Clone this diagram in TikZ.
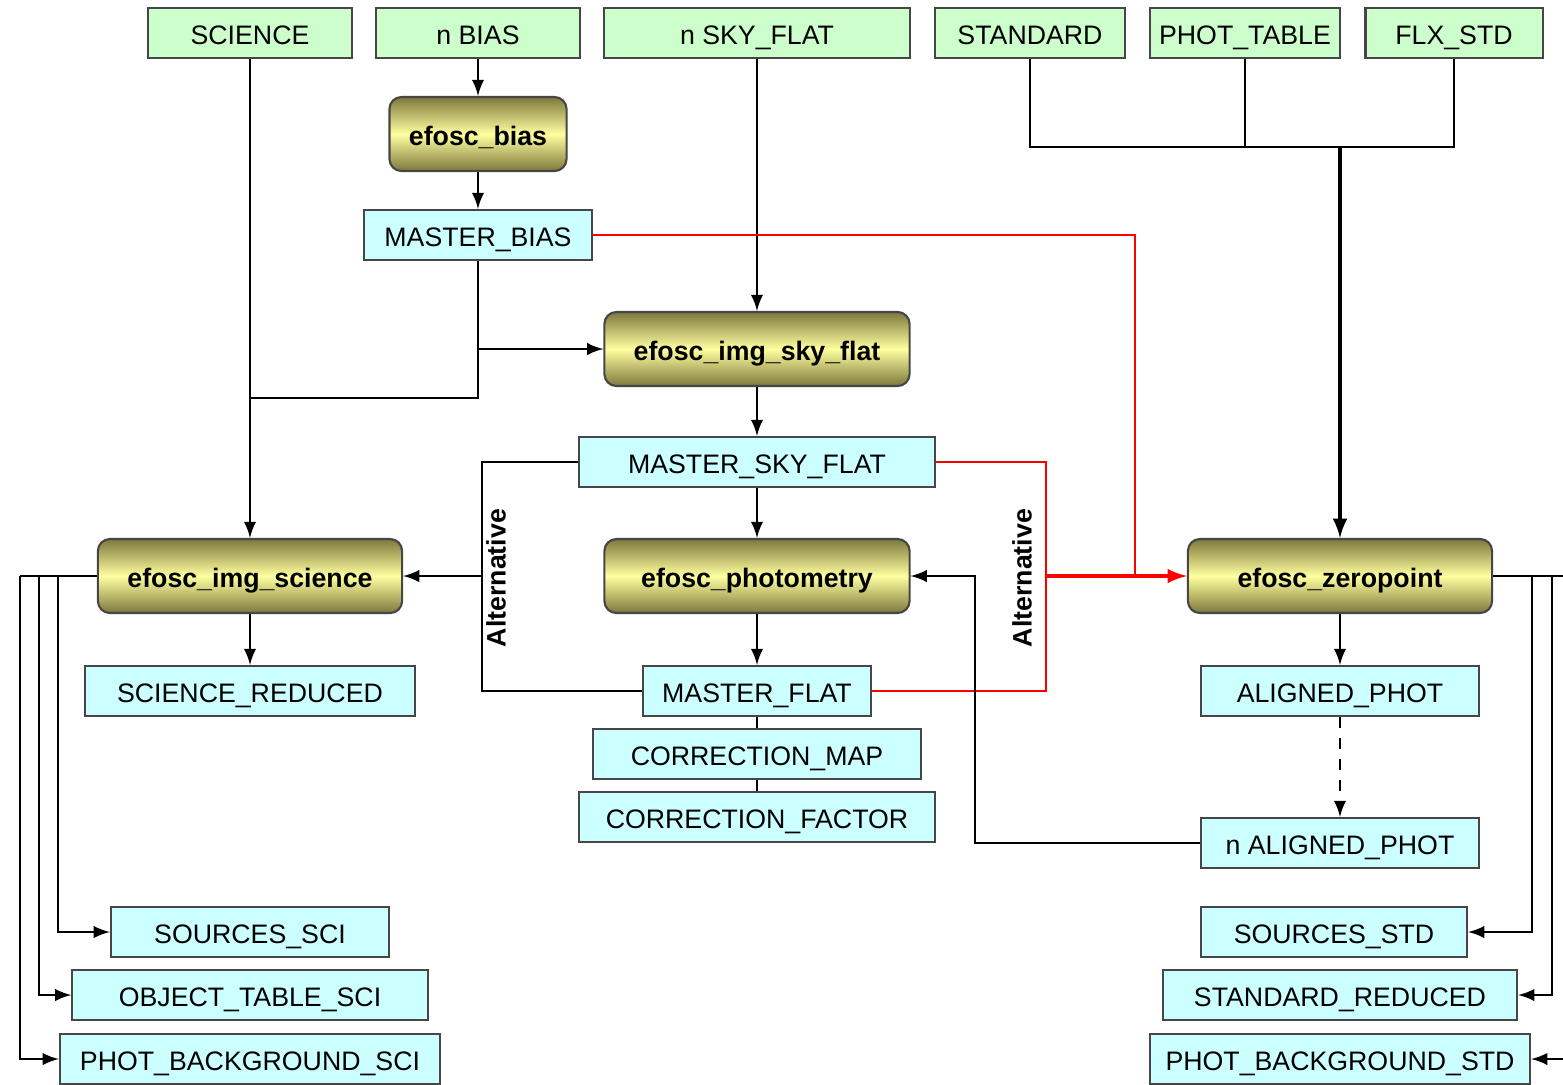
\documentclass[tikz,border=0pt]{standalone}
\usepackage{fontspec}
\setmainfont{Liberation Sans}
\definecolor{rawfill}{RGB}{204,255,204}
\definecolor{prodfill}{RGB}{204,255,255}
\definecolor{recdark}{RGB}{125,120,60}
\definecolor{reclight}{RGB}{255,255,160}
\definecolor{boxline}{RGB}{70,70,70}
\newcommand{\boxfont}{\fontsize{7.6}{9}\selectfont}
\tikzset{
	rawbox/.style={draw=boxline, fill=rawfill, line width=0.6pt, minimum height=0.5cm, inner sep=0pt, text height=6.5pt, text depth=0pt},
	prodbox/.style={draw=boxline, fill=prodfill, line width=0.6pt, minimum height=0.5cm, inner sep=0pt, text height=6.5pt, text depth=0pt},
	recipe/.style={draw=boxline, rounded corners=0.12cm, top color=recdark, bottom color=recdark, middle color=reclight, line width=0.6pt, minimum height=0.74cm, minimum width=3.05cm, inner sep=0pt, text height=6.5pt, text depth=0pt, font=\boxfont\bfseries},
	altlabel/.style={rotate=90, font=\boxfont\bfseries}
}
\begin{document}
\begin{tikzpicture}[x=0.01cm, y=-0.01cm, font=\boxfont, line width=0.6pt, >=latex]
	\useasboundingbox (0,0) rectangle (1563,1084);
	% raw frames
	\node[rawbox, minimum width=2.03cm] (science) at (250,33) {SCIENCE};
	\node[rawbox, minimum width=2.03cm] (nbias) at (478,33) {n BIAS};
	\node[rawbox, minimum width=3.05cm] (nskyflat) at (757,33) {n SKY\_FLAT};
	\node[rawbox, minimum width=1.90cm] (standard) at (1030,33) {STANDARD};
	\node[rawbox, minimum width=1.90cm] (phottable) at (1245,33) {PHOT\_TABLE};
	\node[rawbox, minimum width=1.77cm] (flxstd) at (1454,33) {FLX\_STD};
	% recipes
	\node[recipe, minimum width=1.77cm] (bias) at (478,134) {efosc\_bias};
	\node[recipe] (skyflat) at (757,349) {efosc\_img\_sky\_flat};
	\node[recipe, minimum width=3.04cm] (imgsci) at (250,576) {efosc\_img\_science};
	\node[recipe] (photom) at (757,576) {efosc\_photometry};
	\node[recipe, minimum width=3.04cm] (zero) at (1340,576) {efosc\_zeropoint};
	% products
	\node[prodbox, minimum width=2.28cm] (mbias) at (478,235) {MASTER\_BIAS};
	\node[prodbox, minimum width=3.55cm] (msky) at (757,462) {MASTER\_SKY\_FLAT};
	\node[prodbox, minimum width=3.29cm] (scired) at (250,691) {SCIENCE\_REDUCED};
	\node[prodbox, minimum width=2.28cm] (mflat) at (757,691) {MASTER\_FLAT};
	\node[prodbox, minimum width=3.28cm] (cmap) at (757,754) {CORRECTION\_MAP};
	\node[prodbox, minimum width=3.55cm] (cfac) at (757,817) {CORRECTION\_FACTOR};
	\node[prodbox, minimum width=2.78cm] (aligned) at (1340,691) {ALIGNED\_PHOT};
	\node[prodbox, minimum width=2.78cm] (naligned) at (1340,843) {n ALIGNED\_PHOT};
	\node[prodbox, minimum width=2.78cm] (srcsci) at (250,932) {SOURCES\_SCI};
	\node[prodbox, minimum width=3.55cm] (objsci) at (250,995) {OBJECT\_TABLE\_SCI};
	\node[prodbox, minimum width=3.80cm] (bkgsci) at (250,1059) {PHOT\_BACKGROUND\_SCI};
	\node[prodbox, minimum width=2.66cm] (srcstd) at (1334,932) {SOURCES\_STD};
	\node[prodbox, minimum width=3.54cm] (stdred) at (1340,995) {STANDARD\_REDUCED};
	\node[prodbox, minimum width=3.80cm] (bkgstd) at (1340,1059) {PHOT\_BACKGROUND\_STD};
	% labels
	\node[altlabel] (altleft) at (496,578) {Alternative};
	\node[altlabel] (altright) at (1022,578) {Alternative};
	% junctions
	\coordinate (jsci) at (250,398);
	\coordinate (jstd) at (1340,147);
	\coordinate (jal) at (975,576);
	\coordinate (altL) at (482,576);
	\coordinate (altR) at (1046,576);
	\coordinate (jred) at (1135,576);
	\coordinate (l1) at (58,576);
	\coordinate (l2) at (39,576);
	\coordinate (l3) at (20,576);
	\coordinate (r1) at (1532,576);
	\coordinate (r2) at (1552,576);
	\coordinate (r3) at (1575,576);
	% connectors
	\draw[->] (nbias) -- (bias);
	\draw[->] (bias) -- (mbias);
	\draw[->] (science) -- (imgsci);
	\draw (mbias) |- (jsci);
	\draw[->] (mbias |- skyflat) -- (skyflat);
	\draw[->] (nskyflat) -- (skyflat);
	\draw[->] (skyflat) -- (msky);
	\draw[->] (msky) -- (photom);
	\draw[->] (photom) -- (mflat);
	\draw (mflat) -- (cmap) -- (cfac);
	\draw[->] (imgsci) -- (scired);
	\draw (msky) -| (altL) |- (mflat);
	\draw[->] (altL) -- (imgsci);
	\draw[red] (msky) -| (altR) |- (mflat);
	\draw[red] (mbias) -| (jred);
	\draw[red, ->, line width=0.9pt] (altR) -- (zero);
	\draw (standard) |- (jstd);
	\draw (flxstd) |- (jstd);
	\draw (phottable) -- (phottable |- jstd);
	\draw[->, line width=0.9pt] (jstd) -- (zero);
	\draw[->] (zero) -- (aligned);
	\draw[->, dashed] (aligned) -- (naligned);
	\draw[->] (naligned) -| (jal) -- (photom);
	\draw (imgsci) -- (l3);
	\foreach \j/\t in {l1/srcsci, l2/objsci, l3/bkgsci}
		\draw[->] (\j) |- (\t);
	\draw (zero) -- (r3);
	\foreach \j/\t in {r1/srcstd, r2/stdred, r3/bkgstd}
		\draw[->] (\j) |- (\t);
\end{tikzpicture}
\end{document}
